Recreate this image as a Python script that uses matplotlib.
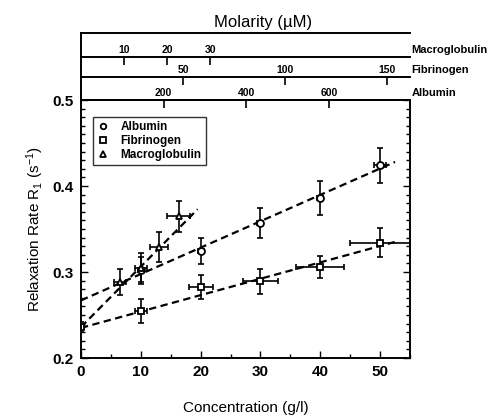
import matplotlib.pyplot as plt
from matplotlib.ticker import MultipleLocator
import numpy as np

plt.rcParams['font.family'] = ['Liberation Sans', 'DejaVu Sans']
plt.rcParams['mathtext.fontset'] = 'custom'
plt.rcParams['mathtext.rm'] = 'Liberation Sans'
plt.rcParams['mathtext.it'] = 'Liberation Sans:italic'

# concentration (g/l), relaxation rate R1 (1/s), errors
alb_x = [10, 20, 30, 40, 50]
alb_y = [0.302, 0.324, 0.357, 0.386, 0.424]
alb_xerr = [0.5, 0.5, 0.5, 0.5, 1.0]
alb_yerr = [0.016, 0.015, 0.017, 0.020, 0.020]

fib_x = [0, 10, 20, 30, 40, 50]
fib_y = [0.236, 0.255, 0.283, 0.289, 0.306, 0.334]
fib_xerr = [0.5, 1.0, 2.0, 3.0, 4.0, 5.0]
fib_yerr = [0.006, 0.014, 0.014, 0.015, 0.013, 0.017]

mac_x = [6.6, 10, 13, 16.3]
mac_y = [0.288, 0.305, 0.329, 0.365]
mac_xerr = [1.0, 1.0, 1.5, 2.0]
mac_yerr = [0.015, 0.017, 0.017, 0.018]

# dashed fit lines (endpoints)
alb_fit_x = [0, 52.5]
alb_fit_y = [0.267, 0.428]
fib_fit_x = [0, 52.5]
fib_fit_y = [0.235, 0.335]
mac_fit_x = [0, 19.5]
mac_fit_y = [0.236, 0.373]

# g/l per uM for the molarity scales
alb_conv = 0.0691
fib_conv = 0.341
mac_conv = 0.721
alb_ticks = [200, 400, 600]
fib_ticks = [50, 100, 150]
mac_ticks = [10, 20, 30]

W, H = 487, 416
fig = plt.figure(figsize=(W/100, H/100), dpi=100)
ax = fig.add_axes([81/W, 1-358/H, 329/W, 258/H])

dash = (0, (3.3, 2))
ax.plot(alb_fit_x, alb_fit_y, color='black', lw=1.6, ls=dash)
ax.plot(fib_fit_x, fib_fit_y, color='black', lw=1.6, ls=dash)
ax.plot(mac_fit_x, mac_fit_y, color='black', lw=1.6, ls=dash)

ekw = dict(fmt='none', ecolor='black', elinewidth=1.2, capsize=2.2, capthick=1.2)
ax.errorbar(alb_x, alb_y, xerr=alb_xerr, yerr=alb_yerr, **ekw)
ax.errorbar(fib_x, fib_y, xerr=fib_xerr, yerr=fib_yerr, **ekw)
ax.errorbar(mac_x, mac_y, xerr=mac_xerr, yerr=mac_yerr, **ekw)

mkw = dict(ls='none', mfc='white', mec='black', mew=1.3, ms=5)
h1, = ax.plot(alb_x, alb_y, marker='o', label='Albumin', **mkw)
h2, = ax.plot(fib_x, fib_y, marker='s', label='Fibrinogen', **mkw)
h3, = ax.plot(mac_x, mac_y, marker='^', label='Macroglobulin', **mkw)

ax.set_xlim(0, 55)
ax.set_ylim(0.2, 0.5)
ax.xaxis.set_major_locator(MultipleLocator(10))
ax.xaxis.set_minor_locator(MultipleLocator(5))
ax.yaxis.set_major_locator(MultipleLocator(0.1))
ax.yaxis.set_minor_locator(MultipleLocator(0.01))
ax.yaxis.set_major_formatter(plt.FuncFormatter(lambda v, p: f"{v:.1f}"))
ax.tick_params(which='both', direction='in', top=False, right=True, width=1)
ax.tick_params(which='major', length=5, labelsize=11, pad=5)
ax.tick_params(which='minor', length=3)
for lbl in ax.get_xticklabels() + ax.get_yticklabels():
    lbl.set_fontweight('bold')
for s in ax.spines.values():
    s.set_linewidth(1.4)

ax.set_xlabel('Concentration (g/l)', fontsize=11, labelpad=16)
ax.set_ylabel('Relaxation Rate R$_1$ (s$^{-1}$)', fontsize=11, labelpad=5)

leg = ax.legend(handles=[h1, h2, h3], loc='upper left', bbox_to_anchor=(0.036, 0.934),
                fontsize=8.5, frameon=True, fancybox=False, edgecolor='black',
                handlelength=1.0, handletextpad=1.0, borderpad=0.35, labelspacing=0.15,
                borderaxespad=0, prop={'weight': 'bold', 'size': 8.5})
leg.get_frame().set_linewidth(1.0)
for hnd in leg.legend_handles:
    hnd.set_markersize(4)

# molarity scales above the main axes
box = fig.add_axes([81/W, 1-100/H, 329/W, 67/H])
box.set_xticks([])
box.set_yticks([])
box.spines['right'].set_visible(False)
box.spines['bottom'].set_visible(False)
for s in ['top', 'left']:
    box.spines[s].set_linewidth(1.4)
box.patch.set_alpha(0)

scales = [
    (alb_conv, alb_ticks, 1.0, 'Albumin'),
    (fib_conv, fib_ticks, 1 + 23/258, 'Fibrinogen'),
    (mac_conv, mac_ticks, 1 + 43/258, 'Macroglobulin'),
]
for conv, ticks, loc, name in scales:
    sec = ax.secondary_xaxis(loc, functions=(lambda x, c=conv: x / c, lambda m, c=conv: m * c))
    sec.set_xticks(ticks)
    sec.tick_params(direction='in', length=6, width=1.2, labelsize=7.5, pad=1.5)
    for lbl in sec.get_xticklabels():
        lbl.set_fontweight('bold')
    sec.spines['top'].set_linewidth(1.4)
    ax.text(1.005, loc + 0.008, name, transform=ax.transAxes, fontsize=8,
            fontweight='bold', ha='left', va='bottom')

fig.text(263/W, 1-22/H, 'Molarity (\u00b5M)', fontsize=12, ha='center', va='center')

fig.savefig('out.png', dpi=100)
